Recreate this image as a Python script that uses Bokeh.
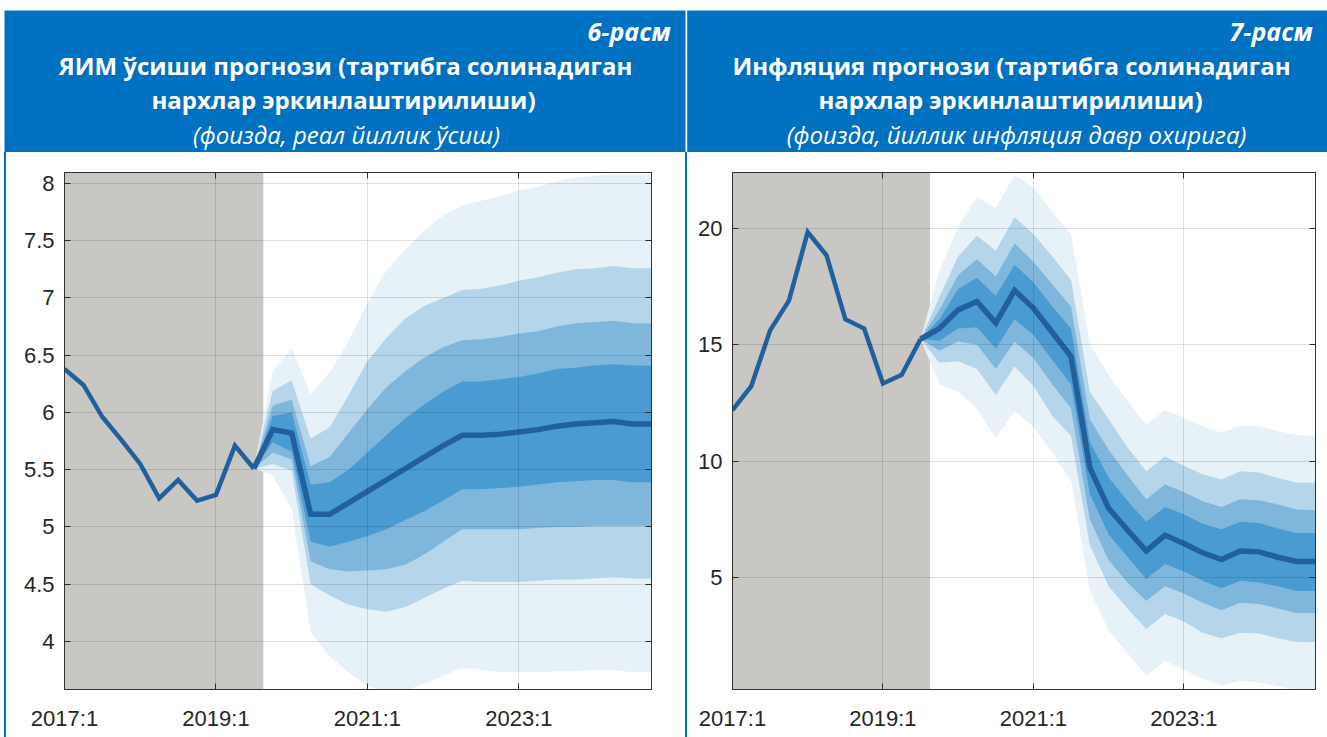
from bokeh.plotting import figure
from bokeh.models import Range1d, BoxAnnotation, FixedTicker, LinearAxis, Label, Spacer, ColumnDataSource
from bokeh.layouts import column, row
from bokeh.embed import file_html
from bokeh.resources import INLINE

# ---------------- data ----------------
quarters = [f"{y}:{q}" for y in range(2017, 2025) for q in range(1, 5)]
x_tick_labels = ["2017:1", "2019:1", "2021:1", "2023:1"]

# GDP growth (chart 6)
gdp_hist = [6.38, 6.24, 5.96, 5.76, 5.55, 5.25, 5.41, 5.23, 5.28, 5.71, 5.51]
gdp_median = [5.51, 5.85, 5.82, 5.11, 5.11, 5.21, 5.31, 5.41, 5.51, 5.61, 5.71,
              5.80, 5.80, 5.81, 5.83, 5.85, 5.88, 5.90, 5.91, 5.92, 5.90, 5.90]
gdp_u4 = [5.51, 6.36, 6.56, 6.16, 6.35, 6.62, 6.96, 7.24, 7.43, 7.59, 7.72,
          7.81, 7.85, 7.89, 7.94, 7.97, 8.02, 8.05, 8.07, 8.08, 8.08, 8.08]
gdp_u3 = [5.51, 6.19, 6.28, 5.77, 5.87, 6.15, 6.45, 6.65, 6.82, 6.93, 7.00,
          7.07, 7.08, 7.11, 7.15, 7.18, 7.22, 7.25, 7.26, 7.28, 7.26, 7.26]
gdp_u2 = [5.51, 6.06, 6.11, 5.53, 5.61, 5.82, 6.03, 6.22, 6.36, 6.48, 6.57,
          6.63, 6.64, 6.66, 6.69, 6.71, 6.75, 6.78, 6.79, 6.80, 6.78, 6.78]
gdp_u1 = [5.51, 5.97, 6.00, 5.37, 5.39, 5.50, 5.65, 5.80, 5.95, 6.07, 6.18,
          6.27, 6.27, 6.29, 6.31, 6.34, 6.38, 6.39, 6.41, 6.42, 6.41, 6.41]
gdp_l1 = [5.51, 5.74, 5.66, 4.87, 4.83, 4.87, 4.92, 4.98, 5.06, 5.14, 5.23,
          5.33, 5.33, 5.34, 5.35, 5.37, 5.39, 5.40, 5.41, 5.41, 5.39, 5.39]
gdp_l2 = [5.51, 5.65, 5.59, 4.70, 4.63, 4.61, 4.62, 4.63, 4.67, 4.76, 4.87,
          4.98, 4.98, 4.98, 4.98, 4.99, 5.00, 5.00, 5.01, 5.01, 5.01, 5.01]
gdp_l3 = [5.51, 5.55, 5.49, 4.50, 4.40, 4.32, 4.28, 4.26, 4.30, 4.38, 4.46,
          4.53, 4.52, 4.52, 4.52, 4.53, 4.54, 4.54, 4.55, 4.56, 4.55, 4.55]
gdp_l4 = [5.51, 5.45, 5.15, 4.08, 3.87, 3.73, 3.61, 3.56, 3.57, 3.63, 3.70,
          3.77, 3.75, 3.73, 3.73, 3.73, 3.74, 3.74, 3.75, 3.75, 3.73, 3.73]
gdp_y_ticks = [4, 4.5, 5, 5.5, 6, 6.5, 7, 7.5, 8]
gdp_y_labels = ["4", "4.5", "5", "5.5", "6", "6.5", "7", "7.5", "8"]

# Inflation (chart 7)
cpi_hist = [12.2, 13.23, 15.62, 16.9, 19.84, 18.84, 16.1, 15.7, 13.34, 13.71, 15.25]
cpi_median = [15.25, 15.7, 16.5, 16.86, 15.94, 17.34, 16.58, 15.54, 14.5, 9.73, 7.98,
              7.05, 6.15, 6.83, 6.47, 6.07, 5.78, 6.15, 6.11, 5.88, 5.7, 5.7]
cpi_u4 = [15.25, 18.17, 20.08, 21.35, 20.88, 22.3, 21.75, 20.7, 19.76, 15.06, 13.7,
          12.6, 11.56, 12.2, 11.88, 11.48, 11.24, 11.53, 11.5, 11.3, 11.13, 11.08]
cpi_u3 = [15.25, 17.05, 18.8, 19.68, 19.04, 20.48, 19.76, 18.8, 17.77, 12.99, 11.8,
          10.6, 9.57, 10.2, 9.81, 9.44, 9.22, 9.57, 9.52, 9.28, 9.08, 9.08]
cpi_u2 = [15.25, 16.5, 18.0, 18.68, 17.93, 19.36, 18.57, 17.6, 16.65, 11.8, 10.5,
          9.4, 8.37, 9.0, 8.68, 8.28, 8.04, 8.37, 8.33, 8.14, 7.93, 7.9]
cpi_u1 = [15.25, 16.1, 17.4, 17.88, 17.1, 18.44, 17.69, 16.65, 15.7, 10.84, 9.3,
          8.3, 7.4, 8.04, 7.72, 7.32, 7.08, 7.4, 7.35, 7.11, 6.92, 6.92]
cpi_l1 = [15.25, 15.17, 15.7, 15.75, 14.84, 16.1, 15.43, 14.35, 13.31, 8.6, 6.86,
          5.9, 4.95, 5.59, 5.27, 4.87, 4.55, 4.87, 4.79, 4.63, 4.43, 4.43]
cpi_l2 = [15.25, 14.75, 15.14, 15.0, 13.96, 15.14, 14.43, 13.31, 12.28, 7.5, 5.75,
          4.79, 4.0, 4.63, 4.32, 3.92, 3.6, 3.92, 3.87, 3.68, 3.49, 3.49]
cpi_l3 = [15.25, 14.23, 14.3, 13.96, 12.85, 14.07, 13.24, 11.96, 11.08, 6.39, 4.63,
          3.68, 2.8, 3.44, 3.12, 2.64, 2.4, 2.64, 2.6, 2.4, 2.24, 2.24]
cpi_l4 = [15.25, 13.31, 13.0, 12.28, 11.0, 12.15, 11.48, 10.37, 9.17, 4.47, 2.72,
          1.77, 0.8, 1.42, 1.05, 0.65, 0.36, 0.57, 0.5, 0.33, 0.2, 0.2]
cpi_y_ticks = [5, 10, 15, 20]
cpi_y_labels = ["5", "10", "15", "20"]

# ---------------- styling ----------------
BLUE_HDR = "#0070C0"
BAND_COLORS = ["#e6f1f8", "#b5d5eb", "#7fb6dc", "#4a9bd1"]  # outer -> inner
LINE_COLOR = "#22609d"
SHADE = "#c9c7c4"
AX = "#333333"
TXT = "#262626"
FONT = "Liberation Sans"


def make_chart(hist, median, uppers, lowers, y_lo, y_hi, yticks, ylabels,
               width, mb_left, mb_right):
    n = len(quarters)
    p = figure(width=width, height=585, x_range=Range1d(0, n - 1), y_range=Range1d(y_lo, y_hi),
               toolbar_location=None, output_backend="svg",
               min_border_left=mb_left, min_border_right=mb_right,
               min_border_top=20, min_border_bottom=48)
    p.background_fill_color = "white"
    p.border_fill_color = "white"
    p.outline_line_color = AX
    p.outline_line_width = 1

    hx = list(range(len(hist)))
    start = len(hist) - 1
    fx = list(range(start, start + len(median)))

    # history shading
    p.add_layout(BoxAnnotation(right=start + 0.5, fill_color=SHADE, fill_alpha=1.0,
                               line_color=None, level="underlay"))

    # fan bands, outermost first
    for col, up, lo in zip(BAND_COLORS, uppers, lowers):
        src = ColumnDataSource(dict(x=fx, y1=lo, y2=up))
        p.varea(x="x", y1="y1", y2="y2", source=src, fill_color=col, fill_alpha=1.0)

    p.line(hx, hist, line_color=LINE_COLOR, line_width=4.5, line_join="miter")
    p.line(fx, median, line_color=LINE_COLOR, line_width=5.5, line_join="miter")

    xt = [quarters.index(t) for t in x_tick_labels]
    p.xaxis.ticker = FixedTicker(ticks=xt)
    p.xaxis.major_label_overrides = {i: t for i, t in zip(xt, x_tick_labels)}
    p.yaxis.ticker = FixedTicker(ticks=yticks)
    p.yaxis.major_label_overrides = {v: s for v, s in zip(yticks, ylabels)}

    for ax in (p.xaxis, p.yaxis):
        ax.axis_line_color = AX
        ax.major_tick_line_color = AX
        ax.major_tick_in = 6
        ax.major_tick_out = 0
        ax.minor_tick_line_color = None
        ax.major_label_text_font = FONT
        ax.major_label_text_font_size = "22px"
        ax.major_label_text_color = TXT
    p.xaxis.major_label_standoff = 16
    p.yaxis.major_label_standoff = 10

    # mirrored box ticks (top/right), labels not drawn
    for loc, tk in (("above", xt), ("right", yticks)):
        ax = LinearAxis(ticker=FixedTicker(ticks=tk), major_tick_in=6, major_tick_out=0,
                        minor_tick_line_color=None, major_label_text_color=None,
                        major_label_text_font_size="1px", major_label_standoff=0,
                        axis_line_color=AX, major_tick_line_color=AX)
        p.add_layout(ax, loc)

    p.xgrid.ticker = FixedTicker(ticks=xt)
    p.ygrid.ticker = FixedTicker(ticks=yticks)
    for g in (p.xgrid, p.ygrid):
        g.grid_line_color = "#000000"
        g.grid_line_alpha = 0.12
        g.grid_line_width = 1
        g.level = "overlay"
    return p


left = make_chart(gdp_hist, gdp_median,
                  [gdp_u4, gdp_u3, gdp_u2, gdp_u1], [gdp_l4, gdp_l3, gdp_l2, gdp_l1],
                  3.58, 8.096, gdp_y_ticks, gdp_y_labels, width=679, mb_left=58, mb_right=34)
right = make_chart(cpi_hist, cpi_median,
                   [cpi_u4, cpi_u3, cpi_u2, cpi_u1], [cpi_l4, cpi_l3, cpi_l2, cpi_l1],
                   0.2, 22.4, cpi_y_ticks, cpi_y_labels, width=640, mb_left=45, mb_right=12)

# ---------------- header ----------------
W, H = 1327, 152
hdr = figure(width=W, height=H, x_range=Range1d(0, W), y_range=Range1d(0, H),
             toolbar_location=None, output_backend="svg", min_border=0,
             x_axis_type=None, y_axis_type=None)
hdr.grid.visible = False
hdr.outline_line_color = None
hdr.background_fill_color = "white"
hdr.border_fill_color = "white"
hdr.add_layout(BoxAnnotation(left=4, right=685, bottom=0, top=142, fill_color=BLUE_HDR,
                             fill_alpha=1.0, line_color=None))
hdr.add_layout(BoxAnnotation(left=686.7, right=W, bottom=0, top=142, fill_color=BLUE_HDR,
                             fill_alpha=1.0, line_color=None))

HFONT = "Open Sans"
SHIFT = 9.5  # rendering offset of the alphabetic baseline
def hlabel(x, y, text, align="center", style="bold", size="24px"):
    hdr.add_layout(Label(x=x, y=H - (y - SHIFT), text=text, text_align=align,
                         text_baseline="alphabetic",
                         text_font=HFONT, text_font_style=style, text_font_size=size,
                         text_color="white"))

# positions given as (x, baseline y) in page pixels from the top-left
hlabel(670, 40, "6-расм", align="right", style="bold italic", size="25px")
hlabel(345, 74.5, "ЯИМ ўсиши прогнози (тартибга солинадиган")
hlabel(343, 108.5, "нархлар эркинлаштирилиши)")
hlabel(346, 143, "(фоизда, реал йиллик ўсиш)", style="italic", size="24px")

hlabel(1312, 40, "7-расм", align="right", style="bold italic", size="25px")
hlabel(1011, 74.5, "Инфляция прогнози (тартибга солинадиган")
hlabel(1010, 108.5, "нархлар эркинлаштирилиши)")
hlabel(1016, 143, "(фоизда, йиллик инфляция давр охирига)", style="italic", size="24px")

gap = Spacer(width=4, height=585)
sp1 = Spacer(width=2, height=585, styles={"background-color": BLUE_HDR})
sp2 = Spacer(width=2, height=585, styles={"background-color": BLUE_HDR})

layout = column(hdr, row(gap, sp1, left, sp2, right))

open("out.html", "w").write(file_html(layout, INLINE))
